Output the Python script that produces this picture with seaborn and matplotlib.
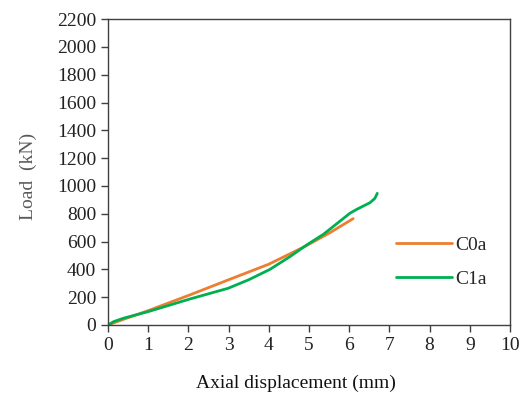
import pandas as pd
import matplotlib
matplotlib.use("Agg")
import matplotlib.pyplot as plt
import seaborn as sns

# C0a curve
c0a_disp = [0.0, 0.4, 1.0, 2.0, 3.0, 4.0, 4.9, 5.5, 6.1]
c0a_load = [0, 42, 103, 212, 325, 437, 565, 660, 765]

# C1a curve
c1a_disp = [0.0, 0.15, 0.38, 1.0, 2.04, 2.99, 3.5, 4.03, 4.53, 4.94, 5.36, 6.02, 6.19, 6.52, 6.64, 6.70]
c1a_load = [0, 25, 48, 96, 187, 264, 325, 400, 492, 575, 652, 804, 832, 880, 911, 947]

xticks = list(range(0, 11))
yticks = list(range(0, 2201, 200))

df = pd.concat([
    pd.DataFrame(dict(disp=c0a_disp, load=c0a_load, series="C0a")),
    pd.DataFrame(dict(disp=c1a_disp, load=c1a_load, series="C1a")),
])

sns.set_style("ticks")
plt.rcParams['font.family'] = ['Liberation Serif', 'DejaVu Serif']

fig = plt.figure(figsize=(5.29, 3.99), dpi=100)
ax = fig.add_axes([0.204, 0.1855, 0.76, 0.7665])
sns.lineplot(data=df, x="disp", y="load", hue="series", sort=False,
             palette={"C0a": "#ED7D31", "C1a": "#00B050"}, linewidth=2.0, ax=ax)

ax.set_xlim(0, 10)
ax.set_ylim(0, 2200)
ax.set_xticks(xticks)
ax.set_yticks(yticks)
ax.tick_params(labelsize=14, colors="#404040", length=5, width=1, labelcolor="#222222")
for s in ax.spines.values():
    s.set_color("#404040")
    s.set_linewidth(1.0)
ax.set_xlabel("Axial displacement (mm)", fontsize=14, color="#111111", labelpad=15, x=0.468)
ax.set_ylabel("Load  (kN)", fontsize=14, color="#595959", labelpad=14, y=0.485)

ax.legend(title=None, frameon=False, fontsize=14, loc="center",
          bbox_to_anchor=(0.83, 0.206), handlelength=2.85, labelspacing=0.86,
          handletextpad=0.2)

fig.savefig("out.png", dpi=100)
